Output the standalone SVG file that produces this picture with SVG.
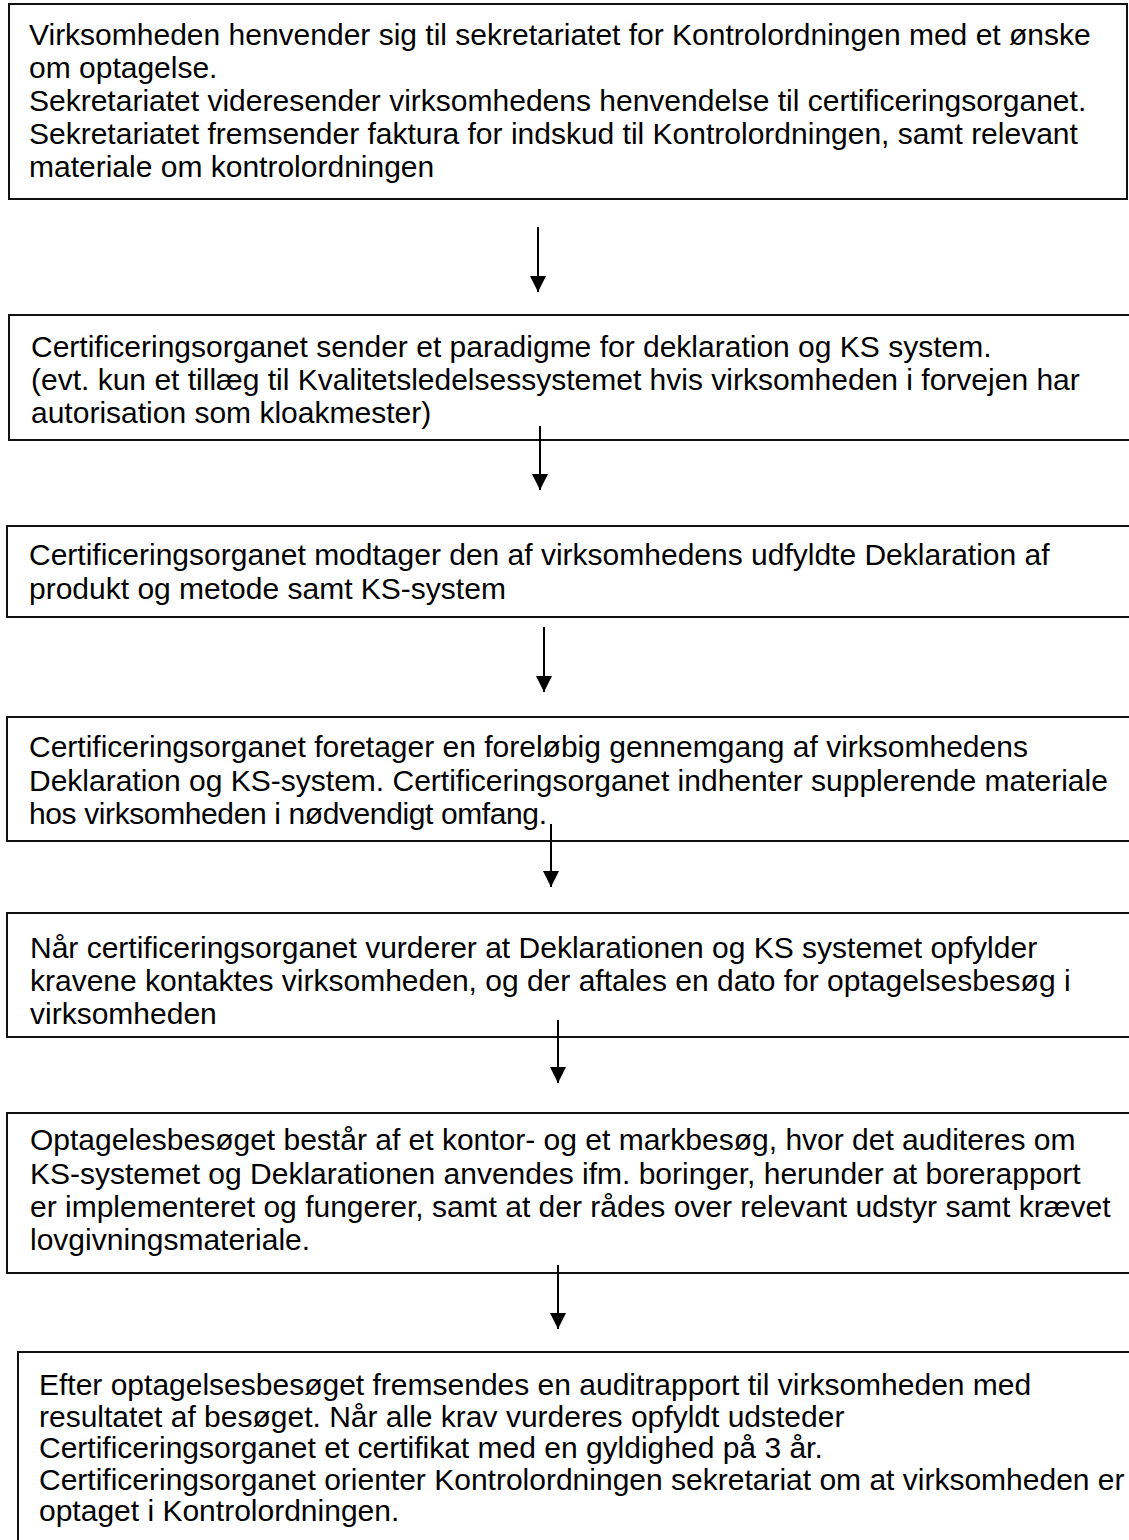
<svg xmlns="http://www.w3.org/2000/svg" width="1129" height="1540" viewBox="0 0 1129 1540">
<style>
.box{fill:#fff;stroke:#111;stroke-width:2}
.t{font-family:"Liberation Sans",Arial,sans-serif;font-size:30px;fill:#000}
.c{stroke:#000;stroke-width:2;fill:none}
</style>
<defs>
<marker id="ah" markerUnits="userSpaceOnUse" markerWidth="16" markerHeight="16" viewBox="0 0 16 16" refX="16" refY="8" orient="auto">
<path d="M0,0 L16,8 L0,16 Z" fill="#000"/>
</marker>
</defs>
<rect width="1129" height="1540" fill="#fff"/>
<g id="n1">
<rect class="box" x="9" y="4" width="1118" height="195"/>
<text class="t" x="29" y="45">Virksomheden henvender sig til sekretariatet for Kontrolordningen med et ønske</text>
<text class="t" x="29" y="78">om optagelse.</text>
<text class="t" x="29" y="111">Sekretariatet videresender virksomhedens henvendelse til certificeringsorganet.</text>
<text class="t" x="29" y="144">Sekretariatet fremsender faktura for indskud til Kontrolordningen, samt relevant</text>
<text class="t" x="29" y="177">materiale om kontrolordningen</text>
</g>
<g id="n2">
<rect class="box" x="9" y="315" width="1130" height="125"/>
<text class="t" x="31" y="357">Certificeringsorganet sender et paradigme for deklaration og KS system.</text>
<text class="t" x="31" y="390">(evt. kun et tillæg til Kvalitetsledelsessystemet hvis virksomheden i forvejen har</text>
<text class="t" x="31" y="423">autorisation som kloakmester)</text>
</g>
<g id="n3">
<rect class="box" x="7" y="526" width="1130" height="91"/>
<text class="t" x="29" y="565">Certificeringsorganet modtager den af virksomhedens udfyldte Deklaration af</text>
<text class="t" x="29" y="599">produkt og metode samt KS-system</text>
</g>
<g id="n4">
<rect class="box" x="7" y="717" width="1130" height="124"/>
<text class="t" x="29" y="757">Certificeringsorganet foretager en foreløbig gennemgang af virksomhedens</text>
<text class="t" x="29" y="791">Deklaration og KS-system. Certificeringsorganet indhenter supplerende materiale</text>
<text class="t" x="29" y="824" textLength="518">hos virksomheden i nødvendigt omfang.</text>
</g>
<g id="n5">
<rect class="box" x="7" y="913" width="1130" height="124"/>
<text class="t" x="30" y="958">Når certificeringsorganet vurderer at Deklarationen og KS systemet opfylder</text>
<text class="t" x="30" y="991">kravene kontaktes virksomheden, og der aftales en dato for optagelsesbesøg i</text>
<text class="t" x="30" y="1024">virksomheden</text>
</g>
<g id="n6">
<rect class="box" x="7" y="1113" width="1130" height="160"/>
<text class="t" x="30" y="1150">Optagelesbesøget består af et kontor- og et markbesøg, hvor det auditeres om</text>
<text class="t" x="30" y="1184">KS-systemet og Deklarationen anvendes ifm. boringer, herunder at borerapport</text>
<text class="t" x="30" y="1217">er implementeret og fungerer, samt at der rådes over relevant udstyr samt krævet</text>
<text class="t" x="30" y="1250">lovgivningsmateriale.</text>
</g>
<g id="n7">
<rect class="box" x="18" y="1352" width="1125" height="200"/>
<text class="t" x="39" y="1395">Efter optagelsesbesøget fremsendes en auditrapport til virksomheden med</text>
<text class="t" x="39" y="1427">resultatet af besøget. Når alle krav vurderes opfyldt udsteder</text>
<text class="t" x="39" y="1458">Certificeringsorganet et certifikat med en gyldighed på 3 år.</text>
<text class="t" x="39" y="1490">Certificeringsorganet orienter Kontrolordningen sekretariat om at virksomheden er</text>
<text class="t" x="39" y="1521">optaget i Kontrolordningen.</text>
</g>
<g id="connectors">
<line class="c" x1="538" y1="227" x2="538" y2="292" marker-end="url(#ah)"/>
<line class="c" x1="540" y1="426" x2="540" y2="490" marker-end="url(#ah)"/>
<line class="c" x1="544" y1="627" x2="544" y2="692" marker-end="url(#ah)"/>
<line class="c" x1="551" y1="824" x2="551" y2="887" marker-end="url(#ah)"/>
<line class="c" x1="558" y1="1020" x2="558" y2="1083" marker-end="url(#ah)"/>
<line class="c" x1="558" y1="1265" x2="558" y2="1329" marker-end="url(#ah)"/>
</g>
</svg>
